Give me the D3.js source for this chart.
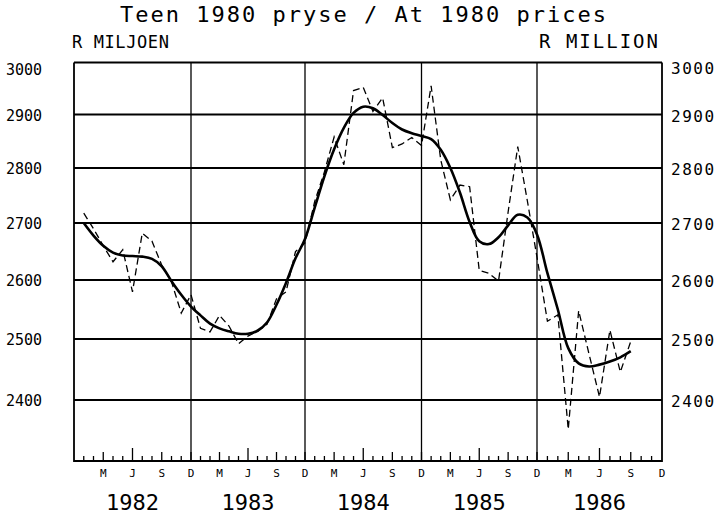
<!DOCTYPE html>
<html>
<head>
<meta charset="utf-8">
<script src="https://cdn.jsdelivr.net/npm/d3@7"></script>
<style>
  html, body { margin: 0; padding: 0; background: #fff; }
  svg { display: block; }
  text { font-family: "DejaVu Sans Mono", "Liberation Mono", monospace; fill: #000; }
</style>
</head>
<body>
<svg id="chart" width="728" height="518"></svg>
<script>
// ---- data ----
const titleText = "Teen 1980 pryse / At 1980 prices";
const leftUnit = "R MILJOEN";
const rightUnit = "R MILLION";
const years = ["1982", "1983", "1984", "1985", "1986"];
const quarterLabels = ["M", "J", "S", "D"];
const yTicks = [3000, 2900, 2800, 2700, 2600, 2500, 2400];
// monthly observations, Jan 1982 .. Sep 1986 (dashed line)
const monthlyValues = [
  2718, 2690, 2660, 2632, 2653, 2580, 2682, 2668, 2626, 2597, 2544, 2575,
  2518, 2512, 2540, 2522, 2492, 2505, 2513, 2525, 2568, 2580, 2650, 2665,
  2739, 2793, 2858, 2806, 2946, 2952, 2906, 2932, 2838, 2845, 2857, 2842,
  2955, 2815, 2742, 2769, 2766, 2617, 2612, 2598, 2720, 2840, 2740, 2640,
  2530, 2541, 2352, 2548, 2475, 2405, 2515, 2446, 2496
];
// smoothed trend, Jan 1982 .. Sep 1986 (solid line)
const trendValues = [
  2700, 2678, 2660, 2648, 2643, 2642, 2641, 2637, 2624, 2598, 2575, 2555,
  2540, 2526, 2518, 2513, 2509, 2509, 2514, 2528, 2558, 2595, 2638, 2672,
  2728, 2785, 2835, 2875, 2903, 2915, 2912, 2899, 2884, 2872, 2865, 2860,
  2854, 2834, 2800, 2755, 2702, 2668, 2663, 2675, 2696, 2715, 2710, 2680,
  2612, 2550, 2485, 2460, 2455, 2458, 2463, 2470, 2480
];

// ---- scales (month index 0 = Dec 1981) ----
const svg = d3.select("#chart");
const x = d3.scaleLinear()
  .domain([0, 12, 24, 36, 48, 60])
  .range([74, 191, 305, 421.5, 537, 662]);
const y = d3.scaleLinear()
  .domain([2300, 2400, 2500, 2600, 2700, 2800, 2900, 3000])
  .range([461, 400, 339, 280, 223, 168, 114.5, 62.5]);

const x0 = x(0), x1 = x(60), yTop = y(3000), yBot = y(2300);

// horizontal gridlines
svg.append("g").selectAll("line").data(yTicks).join("line")
  .attr("x1", x0).attr("x2", x1)
  .attr("y1", d => y(d)).attr("y2", d => y(d))
  .attr("stroke", "#000").attr("stroke-width", 1.8);

// vertical gridlines at year ends
svg.append("g").selectAll("line").data(d3.range(12, 60, 12)).join("line")
  .attr("x1", d => x(d)).attr("x2", d => x(d))
  .attr("y1", yTop).attr("y2", yBot)
  .attr("stroke", "#000").attr("stroke-width", 1.3);

// frame
svg.append("path")
  .attr("d", `M${x0},${yTop}V${yBot}H${x1}V${yTop}`)
  .attr("fill", "none").attr("stroke", "#000").attr("stroke-width", 1.8);

// monthly ticks on bottom axis
const months = d3.range(1, 60);
svg.append("g").selectAll("line").data(months).join("line")
  .attr("x1", d => x(d)).attr("x2", d => x(d))
  .attr("y1", yBot)
  .attr("y2", d => yBot - (d % 12 === 6 ? 13 : (d % 3 === 0 ? 9 : 5)))
  .attr("stroke", "#000").attr("stroke-width", 1.3);

// quarter labels
const qData = [];
for (let yr = 0; yr < 5; yr++) for (let q = 0; q < 4; q++) qData.push({ m: yr * 12 + (q + 1) * 3, t: quarterLabels[q] });
svg.append("g").selectAll("text").data(qData).join("text")
  .attr("x", d => x(d.m)).attr("y", 477)
  .attr("text-anchor", "middle").attr("font-size", 11)
  .text(d => d.t);

// year labels
svg.append("g").selectAll("text").data(years).join("text")
  .attr("x", (d, i) => x(i * 12 + 6)).attr("y", 510)
  .attr("text-anchor", "middle").attr("font-size", 22)
  .text(d => d);

// left axis labels
svg.append("g").selectAll("text").data(yTicks).join("text")
  .attr("x", 42).attr("y", d => y(d) + (d === 3000 ? 12 : 6))
  .attr("text-anchor", "end").attr("font-size", 15)
  .text(d => d);

// right axis labels
svg.append("g").selectAll("text").data(yTicks).join("text")
  .attr("x", 671).attr("y", d => y(d) + (d === 3000 ? 11 : 7))
  .attr("font-size", 16).attr("letter-spacing", 1.5)
  .text(d => d);

// titles
svg.append("text").attr("x", 364).attr("y", 22)
  .attr("text-anchor", "middle").attr("font-size", 22).attr("letter-spacing", 2)
  .text(titleText);
svg.append("text").attr("x", 72).attr("y", 48)
  .attr("font-size", 17).attr("letter-spacing", 0.6)
  .text(leftUnit);
svg.append("text").attr("x", 660).attr("y", 48)
  .attr("text-anchor", "end").attr("font-size", 19).attr("letter-spacing", 2)
  .text(rightUnit);

// series
const pts = v => v.map((d, i) => [i + 1, d]);
const dashedLine = d3.line().x(d => x(d[0])).y(d => y(d[1]));
svg.append("path").datum(pts(monthlyValues))
  .attr("d", dashedLine)
  .attr("fill", "none").attr("stroke", "#000").attr("stroke-width", 1.3)
  .attr("stroke-dasharray", "7,4");

const smoothLine = d3.line().x(d => x(d[0])).y(d => y(d[1])).curve(d3.curveCatmullRom.alpha(0.5));
svg.append("path").datum(pts(trendValues))
  .attr("d", smoothLine)
  .attr("fill", "none").attr("stroke", "#000").attr("stroke-width", 2.6)
  .attr("stroke-linejoin", "round");
</script>
</body>
</html>
